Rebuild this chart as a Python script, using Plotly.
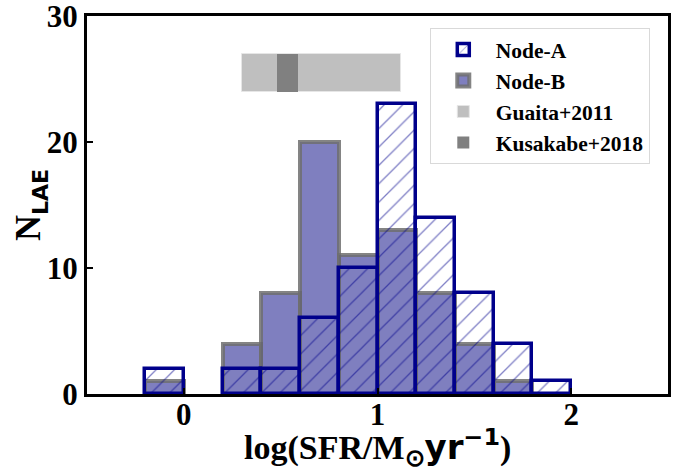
import plotly.graph_objects as go

# ---- data ----
bin_left = [-0.2, 0.2, 0.4, 0.6, 0.8, 1.0, 1.2, 1.4, 1.6, 1.8]
bin_width = 0.2
node_a = [2, 2, 2, 6, 10, 23, 14, 8, 4, 1]
node_b = [1, 4, 8, 20, 11, 13, 8, 4, 1, 0]
guaita_x = [0.30, 1.12]
kusakabe_x = [0.48, 0.59]
band_y = [24, 27]

SERIF = "Liberation Serif, Times New Roman, serif"


def nonzero(lefts, counts):
    xs, ys = [], []
    for b, c in zip(lefts, counts):
        if c > 0:
            xs.append(b + bin_width / 2)
            ys.append(c)
    return xs, ys


fig = go.Figure()

bx, by = nonzero(bin_left, node_b)
ax, ay = nonzero(bin_left, node_a)

# Node-B (filled, gray edge)
fig.add_trace(go.Bar(
    x=bx, y=by, width=bin_width, name="<b>Node-B</b>",
    marker=dict(color="rgba(0,0,128,0.5)",
                line=dict(color="rgba(110,110,110,0.85)", width=4)),
    legendrank=2,
))

# Node-A (hatched, navy edge)
fig.add_trace(go.Bar(
    x=ax, y=ay, width=bin_width, name="<b>Node-A</b>",
    marker=dict(color="rgba(0,0,0,0)",
                line=dict(color="#00008B", width=3.5),
                pattern=dict(shape="/", fgcolor="#00008B", bgcolor="rgba(0,0,0,0)",
                             size=13, solidity=0.1, fillmode="overlay")),
    legendrank=1,
))

# Guaita+2011 band
fig.add_trace(go.Bar(
    x=[(guaita_x[0] + guaita_x[1]) / 2], y=[band_y[1] - band_y[0]], base=[band_y[0]],
    width=[guaita_x[1] - guaita_x[0]], name="<b>Guaita+2011</b>",
    marker=dict(color="#bfbfbf", line=dict(color="#e6e6e6", width=1)),
    legendrank=3,
))

# Kusakabe+2018 band
fig.add_trace(go.Bar(
    x=[(kusakabe_x[0] + kusakabe_x[1]) / 2], y=[band_y[1] - band_y[0]], base=[band_y[0]],
    width=[kusakabe_x[1] - kusakabe_x[0]], name="<b>Kusakabe+2018</b>",
    marker=dict(color="#808080", line=dict(color="#808080", width=0)),
    legendrank=4,
))

fig.update_layout(
    width=688, height=475,
    margin=dict(l=87, r=20, t=16, b=81, autoexpand=False),
    plot_bgcolor="white", paper_bgcolor="white",
    barmode="overlay", bargap=0,
    font=dict(family=SERIF, color="black"),
    legend=dict(
        x=0.59, y=0.968, xanchor="left", yanchor="top",
        bgcolor="rgba(255,255,255,0.9)", bordercolor="#d9d9d9", borderwidth=1,
        font=dict(family=SERIF, size=21.5, color="black"),
        traceorder="normal", itemwidth=55, tracegroupgap=0,
    ),
    showlegend=True,
    annotations=[
        dict(text="<b>log(SFR/M<sub>⊙</sub></b><span style='font-family:DejaVu Sans'><b>yr<sup>−1</sup></b></span><b>)</b>",
             xref="paper", yref="paper", x=0.5, y=0, xanchor="center", yanchor="middle",
             yshift=-53, showarrow=False, font=dict(family=SERIF, size=34, color="black")),
        dict(text="<b>N</b><sub><span style='font-family:DejaVu Sans;font-size:22px'><b>LAE</b></span></sub>",
             xref="paper", yref="paper", x=0, y=0.5, xanchor="center", yanchor="middle",
             xshift=-57, textangle=-90, showarrow=False,
             font=dict(family=SERIF, size=36, color="black")),
    ],
)

fig.update_xaxes(
    range=[-0.5, 2.5], tickvals=[0, 1, 2], ticktext=["<b>0</b>", "<b>1</b>", "<b>2</b>"],
    ticks="inside", ticklen=6, tickwidth=2, tickcolor="black",
    showline=True, linecolor="black", linewidth=3, mirror=True,
    showgrid=False, zeroline=False, automargin=False, ticklabeloverflow="allow",
    ticklabelstandoff=-9,
    tickfont=dict(family=SERIF, size=31, color="black"),
)
fig.update_yaxes(
    range=[0, 30], tickvals=[0, 10, 20, 30],
    ticktext=["<b>0</b>", "<b>10</b>", "<b>20</b>", "<b>30</b>"],
    ticks="inside", ticklen=6, tickwidth=2, tickcolor="black",
    showline=True, linecolor="black", linewidth=3, mirror=True,
    showgrid=False, zeroline=False, automargin=False, ticklabeloverflow="allow",
    tickfont=dict(family=SERIF, size=31, color="black"),
)

# remove the browser's default 8px body margin so the figure fills the window
fig.write_html("out.html", config={"displayModeBar": False},
               post_script="document.body.style.margin='0';")
